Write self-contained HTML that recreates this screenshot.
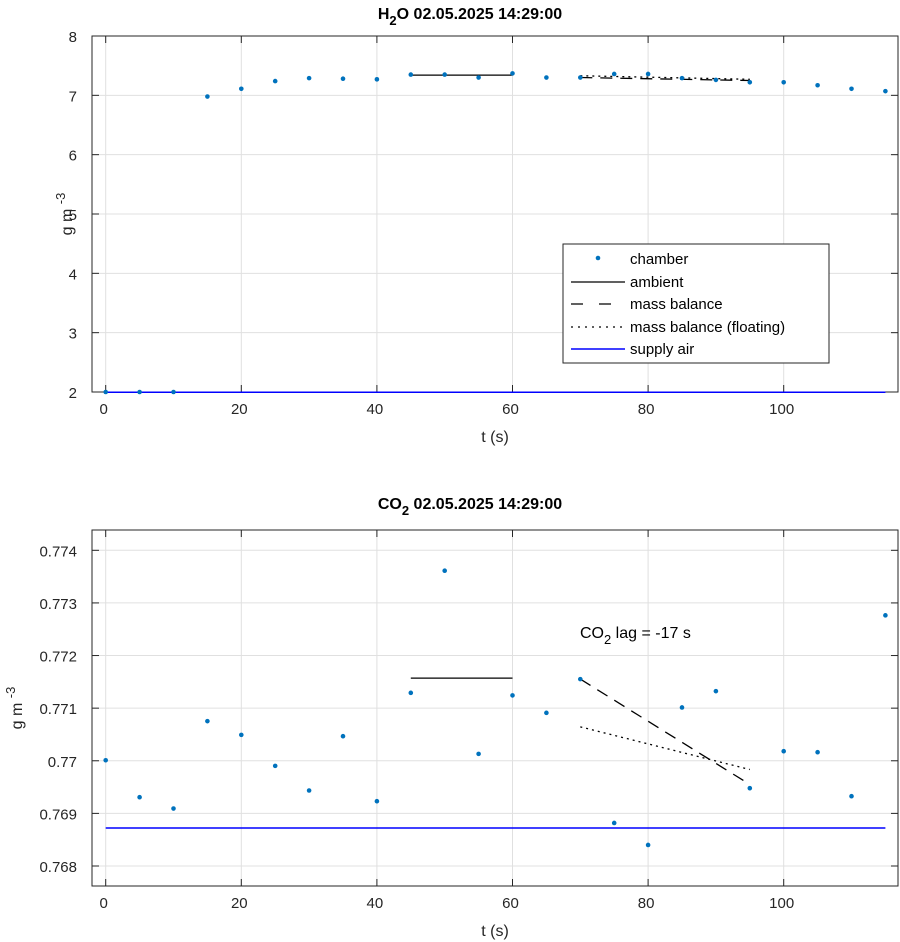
<!DOCTYPE html>
<html><head><meta charset="utf-8"><style>
body{margin:0;background:#fff;}
svg{display:block;font-family:"Liberation Sans",sans-serif;}
</style></head><body>
<svg id="c" width="900" height="942"></svg>
<script>
const times=[0,5,10,15,20,25,30,35,40,45,50,55,60,65,70,75,80,85,90,95,100,105,110,115];
const h2oChamber=[2,2,2,6.98,7.11,7.24,7.29,7.28,7.27,7.35,7.35,7.30,7.37,7.30,7.30,7.36,7.36,7.29,7.26,7.22,7.22,7.17,7.11,7.07];
const h2oAmbient=[[45,7.34],[60,7.34]];
const h2oMassBal=[[70,7.30],[95,7.25]];
const h2oFloating=[[70,7.33],[95,7.27]];
const h2oSupply=[[0,1.995],[115,1.995]];
const co2Chamber=[0.77001,0.769307,0.769092,0.770753,0.770492,0.769903,0.769435,0.770467,0.769231,0.771291,0.773612,0.770131,0.771242,0.770911,0.771552,0.768818,0.7684,0.771013,0.771323,0.769479,0.770182,0.770163,0.769326,0.772764];
const co2Ambient=[[45,0.771571],[60,0.771571]];
const co2MassBal=[[70,0.771552],[95,0.76955]];
const co2Floating=[[70,0.770645],[95,0.769834]];
const co2Supply=[[0,0.768723],[115,0.768723]];
const xTicks=[0,20,40,60,80,100];
const h2oYTicks=[2,3,4,5,6,7,8];
const co2YTicks=[0.768,0.769,0.77,0.771,0.772,0.773,0.774];
const co2YLabels=["0.768","0.769","0.77","0.771","0.772","0.773","0.774"];

const NS="http://www.w3.org/2000/svg";
const svg=document.getElementById('c');
function mk(t,a,p){const e=document.createElementNS(NS,t);for(const k in a)e.setAttribute(k,a[k]);(p||svg).appendChild(e);return e;}

function panel(cfg){
  const L=92,R=898,T=cfg.top,B=cfg.bottom;
  const x=t=>105.7+(t)*6.78;
  const y=v=>B-(v-cfg.ymin)/(cfg.ymax-cfg.ymin)*(B-T);
  const g=mk('g',{});
  
  
  // grid
  xTicks.forEach(t=>{const l=mk('line',{x1:x(t),x2:x(t),y1:T,y2:B,stroke:'#e0e0e0','stroke-width':1},g);
    });
  cfg.yTicks.forEach(v=>{const l=mk('line',{x1:L,x2:R,y1:y(v),y2:y(v),stroke:'#e0e0e0','stroke-width':1},g);
    });
  // box
  const box=mk('rect',{x:L,y:T,width:R-L,height:B-T,fill:'none',stroke:'#262626','stroke-width':1},g);
  
  // ticks
  xTicks.forEach(t=>{
    mk('line',{x1:x(t),x2:x(t),y1:T,y2:T+7,stroke:'#262626'},g);
    mk('line',{x1:x(t),x2:x(t),y1:B,y2:B-7,stroke:'#262626'},g);
    const tx=mk('text',{x:x(t)-2,y:B+22,'text-anchor':'middle','font-size':15,fill:'#262626'},g);
    tx.textContent=t;
  });
  cfg.yTicks.forEach((v,i)=>{
    mk('line',{x1:L,x2:L+7,y1:y(v),y2:y(v),stroke:'#262626'},g);
    mk('line',{x1:R,x2:R-7,y1:y(v),y2:y(v),stroke:'#262626'},g);
    const tx=mk('text',{x:L-15,y:y(v)+6,'text-anchor':'end','font-size':15,fill:'#262626'},g);
    tx.textContent=cfg.yLabels[i];
  });
  function line(pts,attrs,name){const l=mk('line',Object.assign({x1:x(pts[0][0]),y1:y(pts[0][1]),x2:x(pts[1][0]),y2:y(pts[1][1])},attrs),g);
    }
  line(cfg.supply,{stroke:'#0000ff','stroke-width':1.5},'supply-air-line');
  line(cfg.ambient,{stroke:'#000','stroke-width':1.3},'ambient-line');
  line(cfg.massBal,{stroke:'#000','stroke-width':1.3,'stroke-dasharray':'12,8'},'mass-balance-line');
  line(cfg.floating,{stroke:'#000','stroke-width':1.3,'stroke-dasharray':'2,4'},'mass-balance-floating-line');
  cfg.chamber.forEach((v,i)=>{const c=mk('circle',{cx:x(times[i]),cy:y(v),r:2.3,fill:'#0072bd'},g);
    });
  const xl=mk('text',{x:(L+R)/2,y:B+50,'text-anchor':'middle','font-size':16,fill:'#262626'},g);
  xl.textContent='t (s)';
  const yl=mk('text',{transform:`translate(${cfg.ylabX},${(T+B)/2}) rotate(-90)`,'text-anchor':'middle','font-size':16,fill:'#262626'},g);
  yl.innerHTML='g m <tspan dy="-7" font-size="13">-3</tspan>';
  
  return {x,y,g};
}
const p1=panel({name:'h2o',top:36,bottom:392,ymin:2,ymax:8,yTicks:h2oYTicks,yLabels:h2oYTicks.map(String),
  chamber:h2oChamber,ambient:h2oAmbient,massBal:h2oMassBal,floating:h2oFloating,supply:h2oSupply,ylabX:72});
const p2=panel({name:'co2',top:530,bottom:886,ymin:0.76762,ymax:0.774386,yTicks:co2YTicks,yLabels:co2YLabels,
  chamber:co2Chamber,ambient:co2Ambient,massBal:co2MassBal,floating:co2Floating,supply:co2Supply,ylabX:22});
</script>
<svg style="position:absolute;left:0;top:0" width="900" height="942">
<text x="470" y="19" text-anchor="middle" font-size="16" font-weight="bold" font-family="Liberation Sans,sans-serif">H<tspan dy="6" font-size="13">2</tspan><tspan dy="-6">O  02.05.2025 14:29:00</tspan></text>
<text x="470" y="509" text-anchor="middle" font-size="16" font-weight="bold" font-family="Liberation Sans,sans-serif">CO<tspan dy="6" font-size="13">2</tspan><tspan dy="-6">  02.05.2025 14:29:00</tspan></text>
<text x="580" y="638" font-size="16" fill="#000" font-family="Liberation Sans,sans-serif">CO<tspan dy="6" font-size="13">2</tspan><tspan dy="-6"> lag = -17 s</tspan></text>
<g font-family="Liberation Sans,sans-serif" font-size="15" fill="#000">
<rect x="563" y="244" width="266" height="119" fill="#fff" stroke="#262626"/>
<circle cx="598" cy="258" r="2.3" fill="#0072bd"/>
<text x="630" y="264">chamber</text>
<line x1="571" x2="625" y1="282" y2="282" stroke="#000" stroke-width="1.3"/>
<text x="630" y="287">ambient</text>
<line x1="571" x2="625" y1="304" y2="304" stroke="#000" stroke-width="1.3" stroke-dasharray="12,16"/>
<text x="630" y="309">mass balance</text>
<line x1="571" x2="625" y1="327" y2="327" stroke="#000" stroke-width="1.3" stroke-dasharray="2,5"/>
<text x="630" y="332">mass balance (floating)</text>
<line x1="571" x2="625" y1="349" y2="349" stroke="#0000ff" stroke-width="1.5"/>
<text x="630" y="354">supply air</text>
</g>
</svg>
</body></html>
